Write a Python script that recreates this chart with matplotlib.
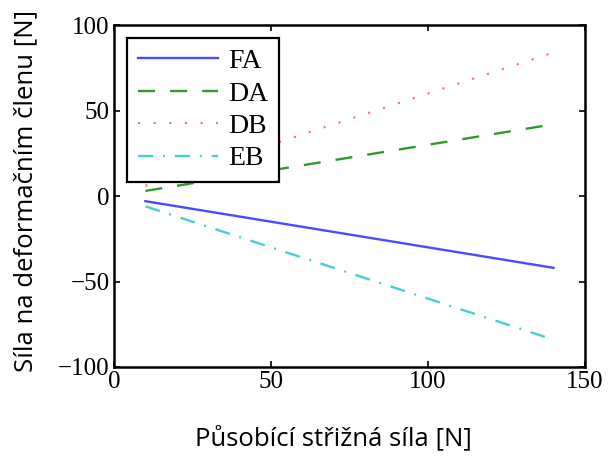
import numpy as np
import matplotlib.pyplot as plt

# Data
force = [10, 140]
fa = [-3, -42]
da = [3, 42]
db = [6, 84]
eb = [-6, -84]

fig = plt.figure(figsize=(6.08, 4.57), dpi=100)
ax = fig.add_axes([0.1875, 0.197, 0.7745, 0.748])

ax.plot(force, fa, '-', color='#4a4aff', lw=1.7, label='FA')
ax.plot(force, da, '--', color='#2e9a2e', lw=1.7, dashes=(7.2, 6.4), label='DA')
ax.plot(force, db, ':', color='#ff6a6a', lw=1.5, dashes=(1, 6.5), label='DB')
ax.plot(force, eb, '-.', color='#45d0d0', lw=1.7, dashes=(6.4, 4.2, 0.8, 4.2), label='EB')

ax.set_xlim(0, 150)
ax.set_ylim(-100, 100)
ax.set_xticks([0, 50, 100, 150])
ax.set_yticks([-100, -50, 0, 50, 100])
ax.tick_params(direction='in', top=True, right=True, length=4, width=1.2,
               labelsize=18, pad=3)
for lab in ax.get_xticklabels() + ax.get_yticklabels():
    lab.set_family('Liberation Serif')
for s in ax.spines.values():
    s.set_linewidth(1.8)

ax.set_xlabel('Působící střižná síla [N]', family='Open Sans', fontsize=18.5)
ax.set_ylabel('Síla na deformačním členu [N]', family='Open Sans', fontsize=18.5)
ax.xaxis.set_label_coords(0.465, -0.17)
ax.yaxis.set_label_coords(-0.16, 0.515)

leg = ax.legend(loc='upper left', prop={'family': 'Liberation Serif', 'size': 20},
                handlelength=2.9, handletextpad=0.35, fancybox=False, framealpha=1,
                edgecolor='black', borderaxespad=0.45, labelspacing=0.25, borderpad=0.4)
leg.get_frame().set_linewidth(1.6)

fig.savefig('out.png', dpi=100)
